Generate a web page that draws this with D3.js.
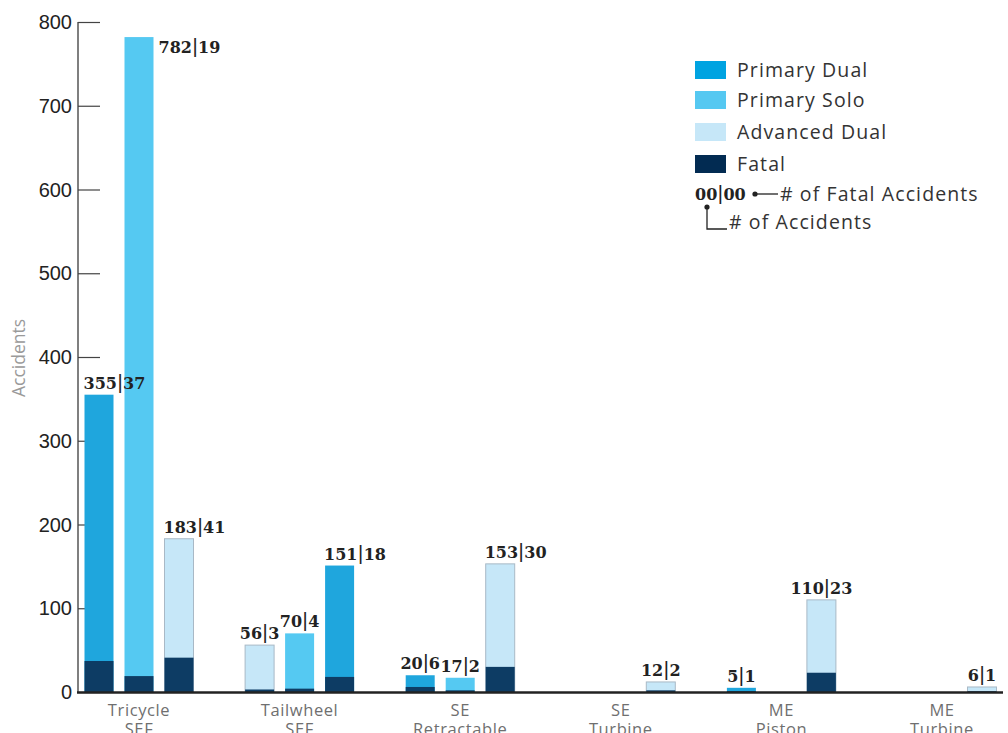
<!DOCTYPE html>
<html>
<head>
<meta charset="utf-8">
<script src="https://cdn.jsdelivr.net/npm/d3@7"></script>
<style>
  html, body { margin: 0; padding: 0; background: #fff; }
  svg { display: block; }
</style>
</head>
<body>
<svg id="chart" width="1008" height="733"></svg>
<script>
// ---- Data ----
const categories = ["Tricycle\nSEF", "Tailwheel\nSEF", "SE\nRetractable", "SE\nTurbine", "ME\nPiston", "ME\nTurbine"];
const seriesNames = ["Primary Dual", "Primary Solo", "Advanced Dual", "Fatal"];
// one entry per bar
const barCategory = [0, 0, 0, 1, 1, 1, 2, 2, 2, 3, 4, 4, 5];
const barSlot     = [0, 1, 2, 0, 1, 2, 0, 1, 2, 2, 0, 2, 2];
const barSeries   = ["Primary Dual", "Primary Solo", "Advanced Dual",
                     "Advanced Dual", "Primary Solo", "Primary Dual",
                     "Primary Dual", "Primary Solo", "Advanced Dual",
                     "Advanced Dual",
                     "Primary Dual", "Advanced Dual",
                     "Advanced Dual"];
const barTotals   = [355, 782, 183, 56, 70, 151, 20, 17, 153, 12, 5, 110, 6];
const barFatals   = [37, 19, 41, 3, 4, 18, 6, 2, 30, 2, 1, 23, 1];
const yTicks      = [0, 100, 200, 300, 400, 500, 600, 700, 800];

// ---- Styles ----
const colors = {
  "Primary Dual": "#1fa6dd",
  "Primary Solo": "#55c9f2",
  "Advanced Dual": "#c6e7f8",
  "Fatal": "#0d3c64"
};
const legendColors = {
  "Primary Dual": "#00a3e1",
  "Primary Solo": "#55c8f1",
  "Advanced Dual": "#c6e7f8",
  "Fatal": "#022b52"
};
// label placement per bar: start = left-aligned at bar, middle = centered, side = right of bar
const labelMode = ["start", "side", "start", "middle", "middle", "start", "middle", "middle", "start", "middle", "middle", "middle", "middle"];

const svg = d3.select("#chart");
const yZero = 692, yTop = 22;
const y = d3.scaleLinear().domain([0, 800]).range([yZero, yTop]);
const x0 = d3.scaleBand().domain(d3.range(categories.length)).range([58.7, 1022.3]).padding(0);
const x1 = d3.scaleBand().domain([0, 1, 2]).paddingInner(0.275).paddingOuter(0.275)
  .range([x0.bandwidth() / 2 - 65.5, x0.bandwidth() / 2 + 65.5]);

const sans = "'Liberation Sans', Arial, sans-serif";
const light = "'Open Sans', Lato, sans-serif";
const serif = "'DejaVu Serif', serif";

// ---- Y axis ----
const yAxis = d3.axisRight(y).tickValues(yTicks).tickSize(22).tickFormat("");
const gy = svg.append("g").attr("transform", "translate(78,0)").call(yAxis);
gy.select(".domain").attr("stroke", "#555").attr("stroke-width", 1.5).attr("d", `M0,${yTop}V${yZero}`);
gy.selectAll(".tick line").attr("stroke", "#444").attr("stroke-width", 1.2);
svg.append("g").selectAll("text").data(yTicks).join("text")
  .attr("x", 72).attr("y", d => y(d)).attr("dy", "0.36em")
  .attr("text-anchor", "end").attr("font-family", sans).attr("font-size", 20)
  .attr("fill", "#222").text(d => d);

svg.append("text")
  .attr("transform", "translate(25,358) rotate(-90)")
  .attr("text-anchor", "middle").attr("font-family", light).attr("font-size", 17.5)
  .attr("fill", "#9a9a9a").text("Accidents");

// ---- Bars ----
const bars = barTotals.map((t, i) => ({
  i, total: t, fatal: barFatals[i], series: barSeries[i],
  x: x0(barCategory[i]) + x1(barSlot[i]), w: x1.bandwidth()
}));

const gb = svg.append("g");
gb.selectAll("rect.total").data(bars).join("rect")
  .attr("class", "total")
  .attr("x", d => d.x).attr("width", d => d.w)
  .attr("y", d => y(d.total)).attr("height", d => yZero - y(d.total))
  .attr("fill", d => colors[d.series])
  .attr("stroke", d => d.series === "Advanced Dual" ? "#a9b9c6" : "none")
  .attr("stroke-width", 1);
gb.selectAll("rect.fatal").data(bars).join("rect")
  .attr("class", "fatal")
  .attr("x", d => d.x).attr("width", d => d.w)
  .attr("y", d => y(d.fatal)).attr("height", d => yZero - y(d.fatal))
  .attr("fill", colors["Fatal"]);

// ---- Bar labels ----
const labels = svg.append("g").selectAll("text").data(bars).join("text")
  .attr("x", d => labelMode[d.i] === "middle" ? d.x + d.w / 2 : labelMode[d.i] === "side" ? d.x + d.w + 5 : d.x - 1)
  .attr("y", d => labelMode[d.i] === "side" ? y(d.total) + 16 : y(d.total) - 6)
  .attr("text-anchor", d => labelMode[d.i] === "middle" ? "middle" : "start")
  .attr("font-family", serif).attr("font-size", 16).attr("font-weight", "bold")
  .attr("fill", "#222");
labels.append("tspan").text(d => d.total);
labels.append("tspan").attr("font-family", sans).attr("font-weight", "normal").attr("font-size", 20).attr("dx", 0.5).text("|");
labels.append("tspan").attr("dx", 0.5).text(d => d.fatal);

// ---- X axis ----
svg.append("line").attr("x1", 77).attr("x2", 1003).attr("y1", yZero + 0.5).attr("y2", yZero + 0.5)
  .attr("stroke", "#222").attr("stroke-width", 2.5);
const catText = svg.append("g").selectAll("text").data(categories).join("text")
  .attr("x", (d, i) => x0(i) + x0.bandwidth() / 2)
  .attr("y", 716)
  .attr("text-anchor", "middle").attr("font-family", light).attr("font-size", 16.5)
  .attr("letter-spacing", 0.6)
  .attr("fill", "#6f6f6f");
catText.selectAll("tspan").data(d => d.split("\n")).join("tspan")
  .attr("x", function() { return this.parentNode.getAttribute("x"); })
  .attr("dy", (d, j) => j === 0 ? 0 : 19).text(d => d);

// ---- Legend ----
const legendY = [70, 100, 132, 164];
const lg = svg.append("g");
seriesNames.forEach((s, i) => {
  lg.append("rect").attr("x", 695).attr("y", legendY[i] - 9).attr("width", 31).attr("height", 18)
    .attr("fill", legendColors[s]);
  lg.append("text").attr("x", 737).attr("y", legendY[i]).attr("dy", "0.35em")
    .attr("font-family", light).attr("font-size", 19.5).attr("letter-spacing", 1.1)
    .attr("fill", "#333").text(s);
});
const key = lg.append("text").attr("x", 695).attr("y", 200)
  .attr("font-family", serif).attr("font-size", 16).attr("font-weight", "bold").attr("fill", "#222");
key.append("tspan").text("00");
key.append("tspan").attr("font-family", sans).attr("font-weight", "normal").attr("font-size", 20).attr("dx", 0.5).text("|");
key.append("tspan").attr("dx", 0.5).text("00");
lg.append("circle").attr("cx", 755).attr("cy", 194).attr("r", 2.6).attr("fill", "#222");
lg.append("line").attr("x1", 755).attr("x2", 778).attr("y1", 194).attr("y2", 194).attr("stroke", "#222").attr("stroke-width", 1.3);
lg.append("text").attr("x", 780).attr("y", 194).attr("dy", "0.35em")
  .attr("font-family", light).attr("font-size", 19.5).attr("letter-spacing", 1.1)
  .attr("fill", "#333").text("# of Fatal Accidents");
lg.append("circle").attr("cx", 707).attr("cy", 207).attr("r", 2.6).attr("fill", "#222");
lg.append("path").attr("d", "M707,207V229H727").attr("fill", "none").attr("stroke", "#222").attr("stroke-width", 1.3);
lg.append("text").attr("x", 729).attr("y", 222).attr("dy", "0.35em")
  .attr("font-family", light).attr("font-size", 19.5).attr("letter-spacing", 1.1)
  .attr("fill", "#333").text("# of Accidents");
</script>
</body>
</html>
